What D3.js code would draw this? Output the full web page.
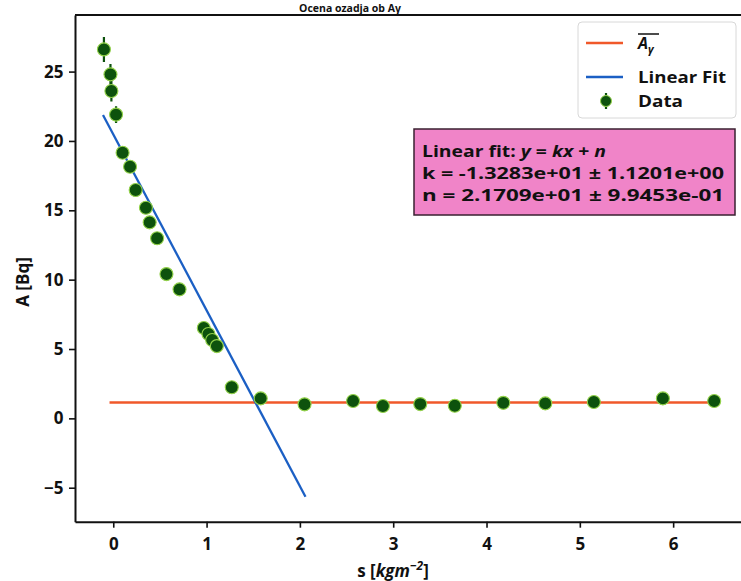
<!DOCTYPE html>
<html>
<head>
<meta charset="utf-8">
<script src="https://cdn.jsdelivr.net/npm/d3@7"></script>
<style>
  html, body { margin: 0; padding: 0; background: #ffffff; }
  svg { display: block; font-family: "Open Sans", "Noto Sans", sans-serif; }
</style>
</head>
<body>
<svg id="chart" width="741" height="581"></svg>
<script>
// ---- data ----
const sValues = [-0.10, -0.03, -0.02, 0.03, 0.10, 0.18, 0.24, 0.35, 0.39, 0.47, 0.57, 0.71,
                 0.97, 1.02, 1.06, 1.11, 1.27, 1.58, 2.05, 2.57, 2.89, 3.29, 3.66, 4.18,
                 4.63, 5.15, 5.89, 6.44];
const aValues = [26.6, 24.8, 23.6, 21.9, 19.15, 18.14, 16.46, 15.18, 14.13, 12.98, 10.40, 9.30,
                 6.51, 6.08, 5.65, 5.21, 2.24, 1.44, 1.01, 1.25, 0.89, 1.03, 0.91, 1.12,
                 1.08, 1.18, 1.44, 1.25];
const aErrors = [0.9, 0.75, 0.75, 0.6, 0.45, 0.45, 0.4, 0.4, 0.4, 0.35, 0.35, 0.3,
                 0.3, 0.3, 0.3, 0.3, 0.25, 0.2, 0.2, 0.2, 0.2, 0.2, 0.2, 0.2,
                 0.2, 0.2, 0.2, 0.2];
const fitLineS = [-0.11, 2.06];
const fitLineA = [21.87, -5.65];
const meanLineS = [-0.04, 6.50];
const meanLineA = [1.14, 1.14];
const xTicks = [0, 1, 2, 3, 4, 5, 6];
const yTicks = [-5, 0, 5, 10, 15, 20, 25];
const fitText = ["k = -1.3283e+01 \u00b1 1.1201e+00", "n = 2.1709e+01 \u00b1 9.9453e-01"];

const svg = d3.select("#chart");
const W = 741, H = 581;
const plot = { left: 75, right: 745, top: 15, bottom: 521.7 };

const x = d3.scaleLinear().domain([-0.41, 6.77]).range([plot.left, plot.right]);
const y = d3.scaleLinear().domain([-7.45, 29.08]).range([plot.bottom, plot.top]);

const C_ORANGE = "#f0582a", C_BLUE = "#1b5fc4", C_GREEN = "#0d520d", C_EDGE = "#93d24a";
const FONT = "'Open Sans', 'Noto Sans', sans-serif";

svg.append("rect").attr("width", W).attr("height", H).attr("fill", "#fff");

// title (small, just above the top spine)
svg.append("text").attr("x", 350).attr("y", 12).attr("text-anchor", "middle")
  .attr("font-size", 10.5).attr("font-weight", 700).attr("fill", "#111")
  .text("Ocena ozadja ob A\u03b3");

svg.append("defs").append("clipPath").attr("id", "clip")
  .append("rect").attr("x", plot.left).attr("y", plot.top)
  .attr("width", plot.right - plot.left).attr("height", plot.bottom - plot.top);

const g = svg.append("g").attr("clip-path", "url(#clip)");

const line = d3.line().x(d => x(d[0])).y(d => y(d[1]));

// mean background line
g.append("path").datum(d3.zip(meanLineS, meanLineA)).attr("d", line)
  .attr("fill", "none").attr("stroke", C_ORANGE).attr("stroke-width", 2.5);
// linear fit
g.append("path").datum(d3.zip(fitLineS, fitLineA)).attr("d", line)
  .attr("fill", "none").attr("stroke", C_BLUE).attr("stroke-width", 2.3);

// data with error bars
const pts = d3.zip(sValues, aValues, aErrors);
g.selectAll("line.err").data(pts).join("line").attr("class", "err")
  .attr("x1", d => x(d[0])).attr("x2", d => x(d[0]))
  .attr("y1", d => y(d[1] - d[2])).attr("y2", d => y(d[1] + d[2]))
  .attr("stroke", C_GREEN).attr("stroke-width", 2.2);
g.selectAll("circle.pt").data(pts).join("circle").attr("class", "pt")
  .attr("cx", d => x(d[0])).attr("cy", d => y(d[1])).attr("r", 6.5)
  .attr("fill", C_GREEN).attr("stroke", C_EDGE).attr("stroke-width", 1.1);

// axes
const xAxis = svg.append("g").attr("transform", `translate(0,${plot.bottom})`)
  .call(d3.axisBottom(x).tickValues(xTicks).tickFormat(d3.format("d")).tickSize(6).tickSizeOuter(0));
const yAxis = svg.append("g").attr("transform", `translate(${plot.left},0)`)
  .call(d3.axisLeft(y).tickValues(yTicks).tickFormat(d => d < 0 ? "\u2212" + Math.abs(d) : d).tickSize(6).tickSizeOuter(0));
[xAxis, yAxis].forEach(a => {
  a.select(".domain").attr("stroke", "#111").attr("stroke-width", 2);
  a.selectAll(".tick line").attr("stroke", "#111").attr("stroke-width", 1.6);
  a.selectAll(".tick text").attr("font-family", FONT).attr("font-size", 17)
    .attr("font-weight", 700).attr("fill", "#111");
});
xAxis.selectAll(".tick text").attr("dy", "1.15em");
yAxis.selectAll(".tick text").attr("dx", "-0.15em");
// top spine
svg.append("line").attr("x1", plot.left).attr("x2", plot.right).attr("y1", plot.top).attr("y2", plot.top)
  .attr("stroke", "#111").attr("stroke-width", 2);

// axis labels
const xl = svg.append("text").attr("x", 393).attr("y", 577).attr("text-anchor", "middle")
  .attr("font-size", 17).attr("font-weight", 700).attr("fill", "#111");
xl.append("tspan").text("s [");
xl.append("tspan").attr("font-style", "italic").text("kgm");
xl.append("tspan").attr("font-style", "italic").attr("font-size", 12).attr("dy", -7).text("\u22122");
xl.append("tspan").attr("dy", 7).text("]");

svg.append("text").attr("transform", "translate(29,282) rotate(-90)").attr("text-anchor", "middle")
  .attr("font-size", 17).attr("font-weight", 700).attr("fill", "#111").text("A [Bq]");

// legend
const lg = svg.append("g");
lg.append("rect").attr("x", 578).attr("y", 22).attr("width", 158).attr("height", 96).attr("rx", 4)
  .attr("fill", "#fff").attr("stroke", "#d8d8d8").attr("stroke-width", 1);
lg.append("line").attr("x1", 586).attr("x2", 623).attr("y1", 43).attr("y2", 43)
  .attr("stroke", C_ORANGE).attr("stroke-width", 2.5);
lg.append("line").attr("x1", 586).attr("x2", 623).attr("y1", 77).attr("y2", 77)
  .attr("stroke", C_BLUE).attr("stroke-width", 2.5);
lg.append("line").attr("x1", 606).attr("x2", 606).attr("y1", 93).attr("y2", 109)
  .attr("stroke", C_GREEN).attr("stroke-width", 2.2);
lg.append("circle").attr("cx", 606).attr("cy", 101).attr("r", 5.5)
  .attr("fill", C_GREEN).attr("stroke", C_EDGE).attr("stroke-width", 1);
const t1 = lg.append("text").attr("x", 638).attr("y", 49).attr("font-size", 16).attr("font-weight", 700).attr("fill", "#111");
t1.append("tspan").attr("font-style", "italic").text("A");
t1.append("tspan").attr("font-size", 11).attr("dy", 4).attr("font-style", "italic").text("\u03b3");
lg.append("line").attr("x1", 638).attr("x2", 659).attr("y1", 34).attr("y2", 34).attr("stroke", "#111").attr("stroke-width", 1.5);
lg.append("text").attr("x", 638).attr("y", 83).attr("font-size", 16).attr("font-weight", 700).attr("fill", "#111")
  .attr("textLength", 88).attr("lengthAdjust", "spacingAndGlyphs").text("Linear Fit");
lg.append("text").attr("x", 638).attr("y", 107).attr("font-size", 16).attr("font-weight", 700).attr("fill", "#111")
  .attr("textLength", 45).attr("lengthAdjust", "spacingAndGlyphs").text("Data");

// fit result box
const bx = svg.append("g");
bx.append("rect").attr("x", 414).attr("y", 129).attr("width", 321).attr("height", 86)
  .attr("fill", "#f084c8").attr("stroke", "#3a2030").attr("stroke-width", 1.5);
const l1 = bx.append("text").attr("x", 422).attr("y", 157).attr("font-size", 16).attr("font-weight", 700)
  .attr("fill", "#111").attr("textLength", 184).attr("lengthAdjust", "spacingAndGlyphs");
l1.append("tspan").text("Linear fit: ");
l1.append("tspan").attr("font-style", "italic").text("y");
l1.append("tspan").text(" = ");
l1.append("tspan").attr("font-style", "italic").text("kx");
l1.append("tspan").text(" + ");
l1.append("tspan").attr("font-style", "italic").text("n");
bx.selectAll("text.val").data(fitText).join("text").attr("class", "val")
  .attr("x", 422).attr("y", (d, i) => 179 + i * 22).attr("font-size", 16).attr("font-weight", 700)
  .attr("fill", "#111").attr("textLength", 302).attr("lengthAdjust", "spacingAndGlyphs").text(d => d);
</script>
</body>
</html>
